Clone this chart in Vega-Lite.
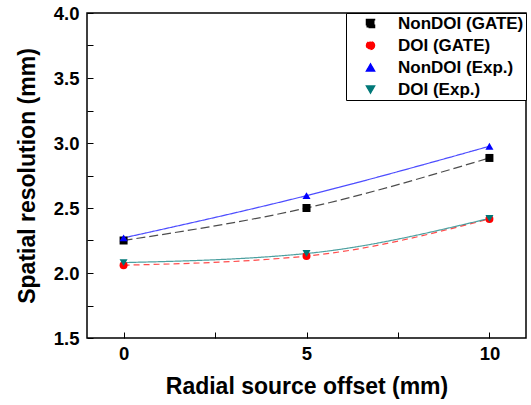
{
  "$schema": "https://vega.github.io/schema/vega-lite/v6.json",
  "autosize": "none",
  "width": 439,
  "height": 325,
  "padding": {"left": 87, "top": 13, "right": 5, "bottom": 67},
  "background": "white",
  "config": {
    "font": "Liberation Sans",
    "view": {"stroke": "black", "strokeWidth": 1.5},
    "axis": {"grid": false, "domain": false, "tickColor": "black", "tickOpacity": 1, "labelColor": "black", "titleColor": "black", "labelFont": "Liberation Sans", "titleFont": "Liberation Sans", "labelFontWeight": "bold", "titleFontWeight": "bold", "labelFontSize": 18.5, "titleFontSize": 23, "ticks": true}
  },
  "data": {"values": [
    {"series": "NonDOI (GATE)", "x": 0, "y": 2.25},
    {"series": "NonDOI (GATE)", "x": 5, "y": 2.50},
    {"series": "NonDOI (GATE)", "x": 10, "y": 2.885},
    {"series": "DOI (GATE)", "x": 0, "y": 2.06},
    {"series": "DOI (GATE)", "x": 5, "y": 2.13},
    {"series": "DOI (GATE)", "x": 10, "y": 2.415},
    {"series": "NonDOI (Exp.)", "x": 0, "y": 2.27},
    {"series": "NonDOI (Exp.)", "x": 5, "y": 2.595},
    {"series": "NonDOI (Exp.)", "x": 10, "y": 2.975},
    {"series": "DOI (Exp.)", "x": 0, "y": 2.08},
    {"series": "DOI (Exp.)", "x": 5, "y": 2.15},
    {"series": "DOI (Exp.)", "x": 10, "y": 2.42}
  ]},
  "encoding": {
    "x": {"field": "x", "type": "quantitative", "scale": {"domain": [-1, 11], "nice": false}, "title": "Radial source offset (mm)",
          "axis": {"values": [0, 2.5, 5, 7.5, 10], "labelExpr": "datum.value % 5 == 0 ? datum.label : ''", "tickSize": -6, "zindex": 1, "labelPadding": 12, "titlePadding": 13}},
    "y": {"field": "y", "type": "quantitative", "scale": {"domain": [1.5, 4.0], "nice": false}, "title": "Spatial resolution (mm)",
          "axis": {"values": [1.5, 1.75, 2.0, 2.25, 2.5, 2.75, 3.0, 3.25, 3.5, 3.75, 4.0], "labelExpr": "datum.value % 0.5 == 0 ? format(datum.value, '.1f') : ''", "tickSize": -6, "zindex": 1, "labelPadding": 14, "titlePadding": 14}},
    "color": {"field": "series", "type": "nominal", "scale": {"domain": ["NonDOI (GATE)", "DOI (GATE)", "NonDOI (Exp.)", "DOI (Exp.)"], "range": ["black", "red", "blue", "#007878"]},
             "legend": {"title": null, "orient": "top-right", "offset": 0, "strokeColor": "black", "fillColor": "white", "padding": 2, "labelFontWeight": "bold", "labelFontSize": 17, "labelColor": "black", "symbolSize": 64, "symbolOpacity": 1, "symbolOffset": 14, "labelOffset": 19, "rowPadding": 4}}
  },
  "layer": [
    {
      "mark": {"type": "line", "interpolate": "monotone", "strokeWidth": 1.2, "opacity": 0.7},
      "encoding": {
        "strokeDash": {"field": "series", "type": "nominal", "legend": null, "scale": {"domain": ["NonDOI (GATE)", "DOI (GATE)", "NonDOI (Exp.)", "DOI (Exp.)"], "range": [[9, 4], [6, 4], [1, 0], [1, 0]]}}
      }
    },
    {
      "mark": {"type": "point", "filled": true, "opacity": 1, "size": 64},
      "encoding": {
        "shape": {"field": "series", "type": "nominal", "scale": {"domain": ["NonDOI (GATE)", "DOI (GATE)", "NonDOI (Exp.)", "DOI (Exp.)"], "range": ["square", "circle", "triangle-up", "triangle-down"]}}
      }
    }
  ]
}
